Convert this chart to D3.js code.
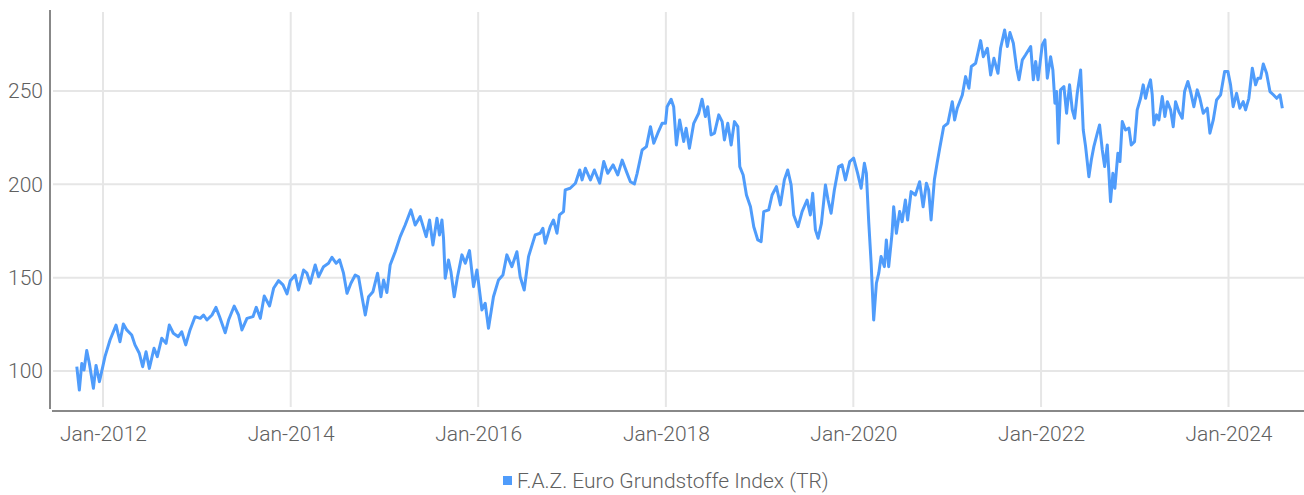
<!DOCTYPE html>
<html>
<head>
<meta charset="utf-8">
<script src="https://cdn.jsdelivr.net/npm/d3@7"></script>
<style>
  html, body { margin: 0; padding: 0; background: #fff; }
  svg { display: block; }
  text { font-family: Roboto, "DejaVu Sans Condensed", sans-serif; font-weight: 300; }
</style>
</head>
<body>
<svg></svg>
<script>
// Zeitpunkte als Dezimaljahre
const dates = [
  2011.720, 2011.747, 2011.773, 2011.797, 2011.826, 2011.854, 2011.897, 2011.925, 2011.961, 2011.997,
  2012.021, 2012.075, 2012.139, 2012.181, 2012.217, 2012.253, 2012.306, 2012.341, 2012.387, 2012.423,
  2012.459, 2012.494, 2012.544, 2012.579, 2012.626, 2012.672, 2012.707, 2012.750, 2012.803, 2012.839,
  2012.882, 2012.928, 2012.981, 2013.035, 2013.070, 2013.106, 2013.160, 2013.202, 2013.241, 2013.301,
  2013.337, 2013.397, 2013.443, 2013.479, 2013.533, 2013.597, 2013.632, 2013.675, 2013.717, 2013.774,
  2013.817, 2013.870, 2013.917, 2013.960, 2013.995, 2014.048, 2014.083, 2014.137, 2014.173, 2014.208,
  2014.261, 2014.297, 2014.350, 2014.403, 2014.440, 2014.485, 2014.521, 2014.563, 2014.600, 2014.642,
  2014.688, 2014.723, 2014.760, 2014.795, 2014.830, 2014.877, 2014.926, 2014.962, 2014.990, 2015.026,
  2015.061, 2015.115, 2015.168, 2015.221, 2015.282, 2015.328, 2015.381, 2015.445, 2015.481, 2015.517,
  2015.560, 2015.587, 2015.613, 2015.630, 2015.648, 2015.683, 2015.709, 2015.744, 2015.779, 2015.826,
  2015.862, 2015.907, 2015.950, 2015.986, 2016.040, 2016.075, 2016.110, 2016.163, 2016.217, 2016.264,
  2016.306, 2016.359, 2016.413, 2016.448, 2016.491, 2016.537, 2016.608, 2016.661, 2016.690, 2016.715,
  2016.768, 2016.803, 2016.840, 2016.867, 2016.910, 2016.928, 2016.981, 2017.035, 2017.081, 2017.106,
  2017.141, 2017.195, 2017.237, 2017.294, 2017.337, 2017.379, 2017.437, 2017.486, 2017.533, 2017.579,
  2017.621, 2017.664, 2017.693, 2017.746, 2017.792, 2017.835, 2017.870, 2017.913, 2017.959, 2017.995,
  2018.013, 2018.056, 2018.083, 2018.112, 2018.147, 2018.190, 2018.216, 2018.251, 2018.297, 2018.350,
  2018.386, 2018.421, 2018.446, 2018.482, 2018.518, 2018.564, 2018.600, 2018.624, 2018.660, 2018.696,
  2018.731, 2018.767, 2018.788, 2018.824, 2018.859, 2018.902, 2018.937, 2018.980, 2019.016, 2019.044,
  2019.097, 2019.133, 2019.179, 2019.222, 2019.264, 2019.300, 2019.336, 2019.364, 2019.410, 2019.453,
  2019.506, 2019.541, 2019.566, 2019.595, 2019.624, 2019.659, 2019.702, 2019.730, 2019.762, 2019.797,
  2019.843, 2019.879, 2019.915, 2019.961, 2020.003, 2020.046, 2020.083, 2020.118, 2020.139, 2020.164,
  2020.190, 2020.217, 2020.246, 2020.271, 2020.296, 2020.331, 2020.352, 2020.377, 2020.413, 2020.430,
  2020.459, 2020.494, 2020.520, 2020.555, 2020.579, 2020.616, 2020.661, 2020.707, 2020.744, 2020.779,
  2020.803, 2020.829, 2020.864, 2020.893, 2020.921, 2020.963, 2021.006, 2021.053, 2021.078, 2021.106,
  2021.160, 2021.195, 2021.230, 2021.256, 2021.302, 2021.326, 2021.355, 2021.384, 2021.427, 2021.462,
  2021.497, 2021.540, 2021.568, 2021.611, 2021.640, 2021.668, 2021.704, 2021.739, 2021.764, 2021.800,
  2021.835, 2021.889, 2021.917, 2021.942, 2021.967, 2022.013, 2022.041, 2022.067, 2022.102, 2022.126,
  2022.148, 2022.166, 2022.184, 2022.208, 2022.244, 2022.272, 2022.304, 2022.333, 2022.358, 2022.386,
  2022.422, 2022.450, 2022.475, 2022.510, 2022.536, 2022.563, 2022.600, 2022.624, 2022.653, 2022.678,
  2022.706, 2022.741, 2022.766, 2022.787, 2022.819, 2022.841, 2022.866, 2022.901, 2022.937, 2022.962,
  2022.997, 2023.026, 2023.062, 2023.090, 2023.115, 2023.140, 2023.168, 2023.186, 2023.204, 2023.232,
  2023.257, 2023.293, 2023.321, 2023.347, 2023.382, 2023.410, 2023.435, 2023.470, 2023.506, 2023.531,
  2023.566, 2023.595, 2023.630, 2023.666, 2023.694, 2023.730, 2023.773, 2023.801, 2023.837, 2023.872,
  2023.915, 2023.958, 2023.993, 2024.022, 2024.050, 2024.086, 2024.121, 2024.157, 2024.182, 2024.217,
  2024.254, 2024.289, 2024.314, 2024.342, 2024.371, 2024.406, 2024.442, 2024.478, 2024.514, 2024.549,
  2024.574
];

// Indexstand (TR)
const values = [
  102.3, 89.8, 104.0, 100.5, 111.0, 104.0, 90.7, 103.0, 94.3, 102.3,
  107.7, 116.6, 124.6, 115.7, 125.2, 122.0, 119.3, 114.0, 109.5, 102.3,
  110.3, 101.4, 112.2, 107.7, 117.5, 114.8, 124.6, 120.2, 118.4, 121.0,
  114.0, 122.0, 129.1, 128.2, 130.0, 127.3, 130.0, 134.1, 129.1, 120.5,
  127.3, 134.8, 130.0, 122.0, 128.2, 129.1, 134.1, 128.2, 140.2, 134.8,
  144.3, 148.4, 146.1, 141.3, 148.4, 151.4, 143.4, 154.1, 152.4, 147.0,
  156.8, 150.5, 155.9, 157.7, 160.9, 157.7, 159.5, 152.4, 141.6, 147.0,
  151.4, 150.5, 139.8, 130.0, 139.8, 142.5, 152.4, 139.8, 148.8, 142.0,
  156.8, 163.9, 172.0, 178.2, 186.3, 178.2, 182.7, 172.0, 180.9, 167.5,
  181.8, 172.9, 180.9, 171.1, 149.7, 159.5, 153.2, 139.8, 150.5, 162.2,
  157.7, 164.5, 145.2, 154.1, 132.7, 136.3, 122.9, 139.8, 148.8, 151.4,
  162.2, 155.9, 163.9, 150.5, 143.4, 161.3, 172.9, 173.8, 176.5, 168.4,
  177.3, 180.9, 173.8, 183.6, 185.4, 197.0, 197.9, 200.6, 207.7, 202.4,
  208.6, 202.4, 207.7, 200.6, 212.2, 205.9, 210.4, 205.0, 213.0, 206.8,
  201.4, 200.2, 205.9, 218.4, 220.2, 230.9, 222.0, 227.4, 232.7, 232.7,
  241.6, 245.6, 241.6, 221.1, 234.5, 222.9, 230.1, 219.3, 232.7, 238.1,
  245.6, 236.3, 241.6, 226.5, 227.4, 237.2, 233.6, 223.8, 232.7, 221.1,
  233.6, 230.9, 209.5, 205.0, 194.3, 188.0, 177.3, 170.2, 169.3, 185.4,
  186.3, 194.3, 198.8, 189.0, 202.4, 207.7, 199.7, 183.6, 177.3, 185.4,
  191.6, 183.6, 195.2, 175.6, 171.1, 179.1, 199.7, 191.6, 184.5, 197.0,
  209.5, 210.4, 202.4, 212.2, 214.0, 205.9, 197.9, 211.3, 205.9, 180.0,
  157.7, 127.3, 147.0, 152.4, 161.3, 155.9, 170.2, 155.9, 173.8, 188.0,
  173.8, 185.4, 180.0, 191.6, 180.9, 196.1, 194.3, 201.4, 188.0, 200.6,
  197.0, 180.9, 202.4, 211.3, 219.3, 230.9, 232.7, 244.3, 234.5, 240.8,
  247.9, 257.7, 251.5, 263.1, 264.9, 270.3, 277.0, 268.4, 272.9, 258.6,
  267.5, 259.5, 273.0, 282.7, 273.8, 281.3, 275.6, 262.2, 256.0, 266.7,
  269.4, 273.8, 256.0, 265.8, 256.0, 274.7, 277.4, 256.9, 268.4, 261.3,
  243.5, 249.7, 222.0, 250.6, 252.4, 238.1, 253.3, 239.9, 235.4, 248.8,
  261.3, 229.1, 220.2, 204.1, 213.0, 220.2, 227.4, 231.8, 218.4, 209.5,
  221.1, 190.7, 205.9, 197.9, 216.6, 212.2, 233.6, 229.1, 230.1, 221.1,
  222.9, 239.9, 246.1, 253.3, 246.1, 251.5, 256.0, 248.0, 231.8, 237.2,
  234.5, 247.0, 236.3, 244.3, 239.9, 230.9, 244.3, 238.9, 235.4, 249.7,
  255.1, 249.7, 241.6, 250.6, 246.1, 238.1, 240.8, 227.4, 234.5, 245.2,
  247.9, 260.4, 260.4, 253.3, 241.6, 248.8, 240.8, 244.3, 239.9, 246.1,
  262.2, 253.3, 256.9, 256.9, 264.5, 259.5, 249.7, 248.0, 246.1, 248.0,
  240.8
];

const yTicks = [100, 150, 200, 250];
const xTickYears = [2012, 2014, 2016, 2018, 2020, 2022, 2024];
const seriesName = "F.A.Z. Euro Grundstoffe Index (TR)";

const width = 1304;
const height = 495;
const lineColor = "#4f9cfb";
const fontSize = "21px";

// Dezimaljahr -> Datum
function toDate(y) {
  const yr = Math.floor(y);
  const start = new Date(yr, 0, 1);
  return new Date(start.getTime() + (y - yr) * 365.25 * 864e5);
}

const data = dates.map((d, i) => ({ date: toDate(d), value: values[i] }));

const svg = d3.select("svg")
  .attr("width", width)
  .attr("height", height);

// Plotbereich
const plotLeft = 50, plotRight = width, plotTop = 10, plotBottom = 410;

const x = d3.scaleTime()
  .domain([new Date(2012, 0, 1), new Date(2024, 0, 1)])
  .range([103, 1228.5]);

const y = d3.scaleLinear()
  .domain([79.1, 293.4])
  .range([plotBottom, plotTop]);

const xTickDates = xTickYears.map(yr => new Date(yr, 0, 1));

// Gitterlinien
svg.append("g")
  .selectAll("line")
  .data(yTicks)
  .join("line")
  .attr("x1", plotLeft + 3)
  .attr("x2", plotRight)
  .attr("y1", d => y(d))
  .attr("y2", d => y(d))
  .attr("stroke", "#e6e6e6")
  .attr("stroke-width", 2);

svg.append("g")
  .selectAll("line")
  .data(xTickDates)
  .join("line")
  .attr("x1", d => x(d))
  .attr("x2", d => x(d))
  .attr("y1", plotTop + 2)
  .attr("y2", plotBottom - 3)
  .attr("stroke", "#e6e6e6")
  .attr("stroke-width", 2);

// Achsen
const yAxis = svg.append("g")
  .attr("transform", `translate(${plotLeft},0)`)
  .call(d3.axisLeft(y).tickValues(yTicks).tickSize(0).tickPadding(7));

const xAxis = svg.append("g")
  .attr("transform", `translate(0,${plotBottom + 1})`)
  .call(d3.axisBottom(x).tickValues(xTickDates).tickSize(0).tickPadding(15)
    .tickFormat(d3.timeFormat("%b-%Y")));

yAxis.select(".domain")
  .attr("d", `M0,${plotTop}V${plotBottom - 1}`)
  .attr("stroke", "#888")
  .attr("stroke-width", 2);

xAxis.select(".domain")
  .attr("d", `M${plotLeft + 2},0H${plotRight}`)
  .attr("stroke", "#888")
  .attr("stroke-width", 2);

svg.selectAll(".tick text")
  .attr("fill", "#606060")
  .style("font-size", fontSize)
  .style("font-family", "Roboto, \"DejaVu Sans Condensed\", sans-serif")
  .style("font-weight", 300);

// Linie
const line = d3.line()
  .x(d => x(d.date))
  .y(d => y(d.value));

svg.append("path")
  .datum(data)
  .attr("fill", "none")
  .attr("stroke", lineColor)
  .attr("stroke-width", 3)
  .attr("stroke-linejoin", "round")
  .attr("d", line);

// Legende, zentriert unter dem Diagramm
const legend = svg.append("g");

const legendText = legend.append("text")
  .attr("x", 14)
  .attr("y", 0)
  .attr("dy", "0.35em")
  .attr("fill", "#606060")
  .style("font-size", fontSize)
  .text(seriesName);

legend.append("rect")
  .attr("x", 0)
  .attr("y", -5)
  .attr("width", 9)
  .attr("height", 9)
  .attr("fill", lineColor);

const legendWidth = 14 + legendText.node().getComputedTextLength();
legend.attr("transform", `translate(${Math.round(666 - legendWidth / 2)},481)`);
</script>
</body>
</html>
